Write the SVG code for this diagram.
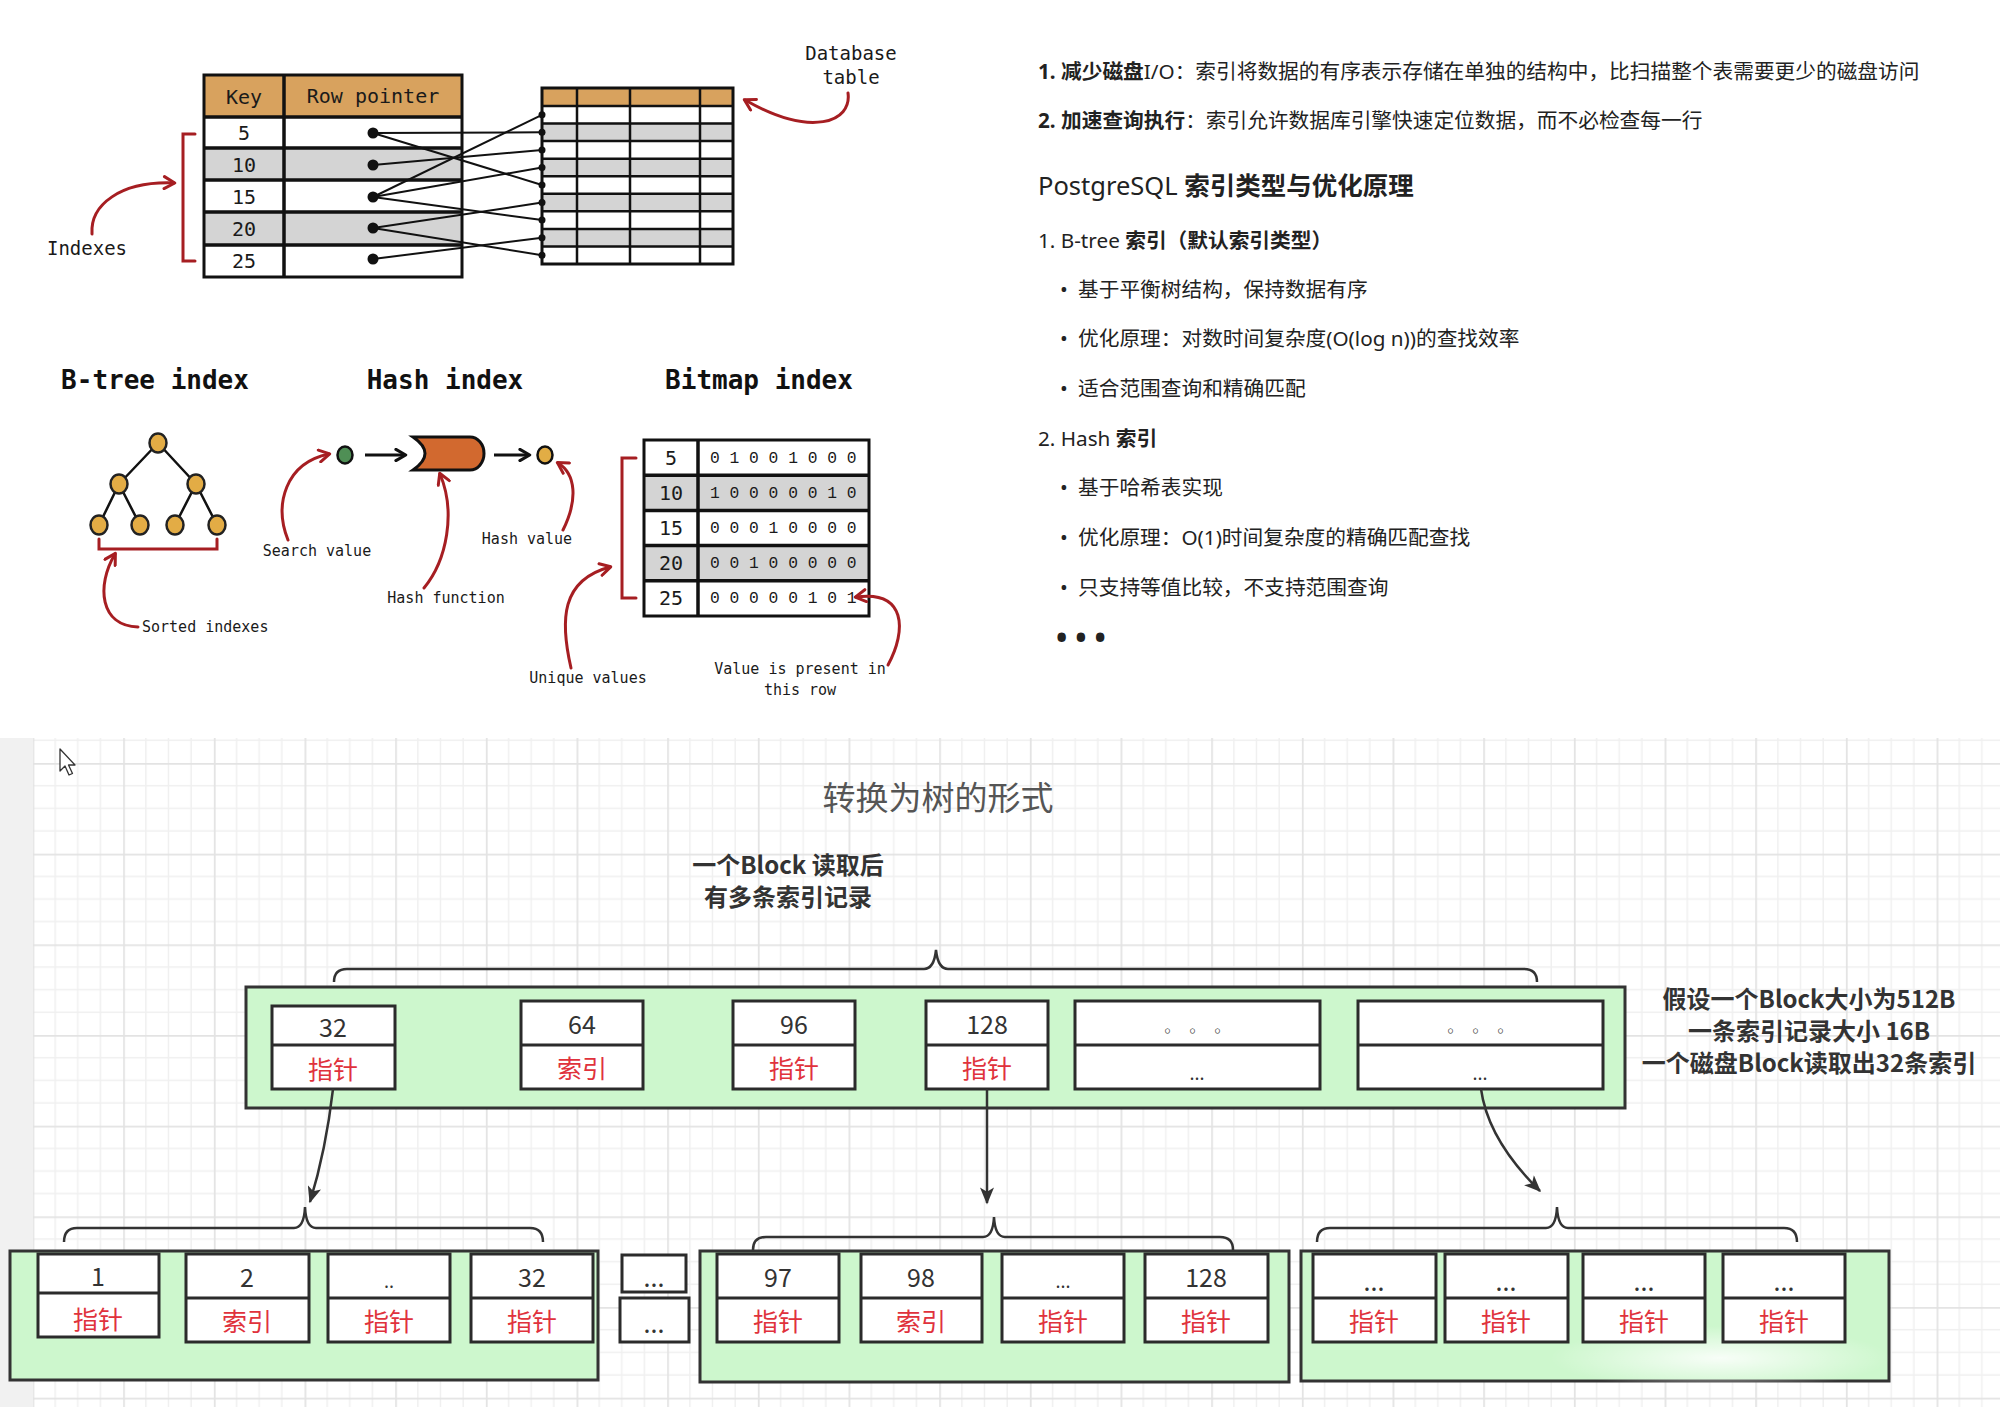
<svg xmlns="http://www.w3.org/2000/svg" width="2000" height="1407" viewBox="0 0 2000 1407">
<style>
.hw{font-family:"DejaVu Sans Mono","Liberation Mono",monospace;fill:#1a1a1a}
.bits{font-family:"Liberation Mono","DejaVu Sans Mono",monospace;fill:#1a1a1a}
.ttl{font-family:"DejaVu Sans Mono","Liberation Mono",monospace;font-weight:bold;font-size:26px;fill:#111}
.lbl{font-family:"DejaVu Sans Mono","Liberation Mono",monospace;font-size:15px;fill:#1a1a1a}
.ln{stroke:#111;stroke-width:3;fill:none}
.ptr{stroke:#111;stroke-width:2;fill:none}
.red{stroke:#a61e22;stroke-width:3;fill:none;stroke-linecap:round}
.body{font-family:"Noto Sans","Noto Sans CJK SC",sans-serif;font-size:20.7px;fill:#222}
.b{font-weight:bold}
.cn{font-family:"Noto Sans CJK SC","Noto Sans",sans-serif}
.blk{fill:#cdf7cd;stroke:#333;stroke-width:3}
.cell{fill:#fff;stroke:#2b2b2b;stroke-width:3}
.num{font-family:"Noto Sans CJK SC","Noto Sans",sans-serif;font-size:25px;fill:#333}
.rt{font-family:"Noto Sans CJK SC",sans-serif;font-size:25px;fill:#e0323c}
.note{font-family:"Noto Sans CJK SC",sans-serif;font-size:24px;font-weight:bold;fill:#333}
.arr{stroke:#333;stroke-width:2.5;fill:none}
.brace{stroke:#333;stroke-width:2.5;fill:none}
</style>
<defs>
<marker id="redHead" viewBox="0 0 10 10" refX="8" refY="5" markerWidth="15" markerHeight="15" markerUnits="userSpaceOnUse" orient="auto"><path d="M1.5,1 L8.5,5 L1.5,9" fill="none" stroke="#a61e22" stroke-width="2" stroke-linecap="round" stroke-linejoin="round"/></marker>
<marker id="blackHead" viewBox="0 0 10 10" refX="8" refY="5" markerWidth="14" markerHeight="14" markerUnits="userSpaceOnUse" orient="auto"><path d="M1.5,1 L8.5,5 L1.5,9" fill="none" stroke="#111" stroke-width="2.2" stroke-linecap="round" stroke-linejoin="round"/></marker>
<marker id="darkHead" viewBox="0 0 12 10" refX="11" refY="5" markerWidth="18" markerHeight="14" markerUnits="userSpaceOnUse" orient="auto"><path d="M0,0 L12,5 L0,10 L3,5 Z" fill="#333"/></marker>
<pattern id="grid" x="32.5" y="763" width="90.67" height="90.67" patternUnits="userSpaceOnUse">
<path d="M22.67,0 V90.67 M45.33,0 V90.67 M68,0 V90.67 M0,22.67 H90.67 M0,45.33 H90.67 M0,68 H90.67" stroke="#f0f0f0" stroke-width="1.5" fill="none"/>
<path d="M0.75,0 V90.67 M0,0.75 H90.67" stroke="#e3e3e3" stroke-width="2" fill="none"/>
</pattern>
<radialGradient id="glare" cx="0.5" cy="0.5" r="0.5"><stop offset="0" stop-color="#fff" stop-opacity="0.85"/><stop offset="1" stop-color="#fff" stop-opacity="0"/></radialGradient>
</defs>
<rect width="2000" height="1407" fill="#fff"/>

<!-- ============ TOP LEFT: index table ============ -->
<g id="index-table">
<rect x="204" y="75" width="258" height="42" fill="#d8a25e"/>
<rect x="204" y="148" width="258" height="32" fill="#d4d4d4"/>
<rect x="204" y="212" width="258" height="33" fill="#d4d4d4"/>
<rect x="204" y="75" width="258" height="202" class="ln"/>
<path d="M204,117 H462 M204,148 H462 M204,180 H462 M204,212 H462 M204,245 H462 M284,75 V277" stroke="#111" stroke-width="3.5"/>
<text x="244" y="97" class="hw" font-size="20" text-anchor="middle" dominant-baseline="central">Key</text>
<text x="373" y="96" class="hw" font-size="20" text-anchor="middle" dominant-baseline="central">Row pointer</text>
<g class="hw" font-size="20" text-anchor="middle" dominant-baseline="central">
<text x="244" y="133">5</text><text x="244" y="165">10</text><text x="244" y="197">15</text><text x="244" y="229">20</text><text x="244" y="261">25</text>
</g>
</g>
<g id="database-table">
<rect x="542" y="88" width="191" height="18" fill="#d8a25e"/>
<rect x="542" y="123.6" width="191" height="17.5" fill="#d4d4d4"/>
<rect x="542" y="158.7" width="191" height="17.5" fill="#d4d4d4"/>
<rect x="542" y="193.8" width="191" height="17.5" fill="#d4d4d4"/>
<rect x="542" y="228.9" width="191" height="17.5" fill="#d4d4d4"/>
<rect x="542" y="88" width="191" height="176" class="ln" stroke-width="2.5"/>
<path d="M542,106 H733 M542,123.6 H733 M542,141.1 H733 M542,158.7 H733 M542,176.2 H733 M542,193.8 H733 M542,211.3 H733 M542,228.9 H733 M542,246.4 H733 M577,88 V264 M630,88 V264 M700,88 V264" stroke="#111" stroke-width="2.5"/>
</g>
<g id="label-indexes">
<path d="M195,134 H183 V261 H195" class="red"/>
<text x="87" y="248" class="hw" font-size="19" text-anchor="middle" dominant-baseline="central">Indexes</text>
</g>
<g id="label-database">
<text x="851" y="53" class="hw" font-size="19" text-anchor="middle" dominant-baseline="central">Database</text>
<text x="851" y="77" class="hw" font-size="19" text-anchor="middle" dominant-baseline="central">table</text>
</g>

<!-- ============ MIDDLE LEFT: index types ============ -->
<g id="btree-index">
<text x="155" y="380" class="ttl" text-anchor="middle" dominant-baseline="central">B-tree index</text>
<path d="M158,443 L119,484 M158,443 L196,484 M119,484 L99,525 M119,484 L140,525 M196,484 L175,525 M196,484 L217,525" stroke="#111" stroke-width="2.5"/>
<g fill="#e3ac45" stroke="#222" stroke-width="2.5">
<ellipse cx="158" cy="443" rx="8.5" ry="9.5"/><ellipse cx="119" cy="484" rx="8.5" ry="9.5"/><ellipse cx="196" cy="484" rx="8.5" ry="9.5"/>
<ellipse cx="99" cy="525" rx="8.5" ry="9.5"/><ellipse cx="140" cy="525" rx="8.5" ry="9.5"/><ellipse cx="175" cy="525" rx="8.5" ry="9.5"/><ellipse cx="217" cy="525" rx="8.5" ry="9.5"/>
</g>
<path d="M99,539 V549 H217 V539" class="red"/>
<text x="142" y="627" class="lbl" dominant-baseline="central">Sorted indexes</text>
</g>
<g id="hash-index">
<text x="445" y="380" class="ttl" text-anchor="middle" dominant-baseline="central">Hash index</text>
<ellipse cx="345" cy="455" rx="7.5" ry="8.5" fill="#4f8f55" stroke="#111" stroke-width="2.5"/>
<path d="M413,437 L470,437 A14,16.5 0 0 1 470,470 L413,470 Q437,453.5 413,437 Z" fill="#d2692f" stroke="#111" stroke-width="3"/>
<ellipse cx="545" cy="455" rx="7.5" ry="8.5" fill="#e2ad45" stroke="#111" stroke-width="2.5"/>
<text x="317" y="551" class="lbl" text-anchor="middle" dominant-baseline="central">Search value</text>
<text x="446" y="598" class="lbl" text-anchor="middle" dominant-baseline="central">Hash function</text>
<text x="527" y="539" class="lbl" text-anchor="middle" dominant-baseline="central">Hash value</text>
</g>
<g id="bitmap-index">
<text x="759" y="380" class="ttl" text-anchor="middle" dominant-baseline="central">Bitmap index</text>
<rect x="644" y="475.2" width="225" height="35.2" fill="#d4d4d4"/>
<rect x="644" y="545.6" width="225" height="35.2" fill="#d4d4d4"/>
<rect x="644" y="440" width="225" height="176" class="ln" stroke-width="3.5"/>
<path d="M644,475.2 H869 M644,510.4 H869 M644,545.6 H869 M644,580.8 H869 M698,440 V616" stroke="#111" stroke-width="3.5"/>
<g class="hw" font-size="20" text-anchor="middle" dominant-baseline="central">
<text x="671" y="458">5</text><text x="671" y="493">10</text><text x="671" y="528">15</text><text x="671" y="563">20</text><text x="671" y="598">25</text>
</g>
<g class="bits" font-size="16.3" dominant-baseline="central" xml:space="preserve">
<text x="710" y="458">0 1 0 0 1 0 0 0</text>
<text x="710" y="493">1 0 0 0 0 0 1 0</text>
<text x="710" y="528">0 0 0 1 0 0 0 0</text>
<text x="710" y="563">0 0 1 0 0 0 0 0</text>
<text x="710" y="598">0 0 0 0 0 1 0 1</text>
</g>
<path d="M636,458 H622 V598 H636" class="red"/>
<text x="588" y="678" class="lbl" text-anchor="middle" dominant-baseline="central">Unique values</text>
<text x="800" y="669" class="lbl" text-anchor="middle" dominant-baseline="central">Value is present in</text>
<text x="800" y="690" class="lbl" text-anchor="middle" dominant-baseline="central">this row</text>
</g>

<!-- ============ TOP RIGHT: text ============ -->
<g id="text-panel" class="body" dominant-baseline="central">
<text x="1038" y="71"><tspan class="b">1. 减少磁盘</tspan>I/O：索引将数据的有序表示存储在单独的结构中，比扫描整个表需要更少的磁盘访问</text>
<text x="1038" y="120"><tspan class="b">2. 加速查询执行</tspan>：索引允许数据库引擎快速定位数据，而不必检查每一行</text>
<text x="1038" y="185" font-size="25.5">PostgreSQL <tspan class="b">索引类型与优化原理</tspan></text>
<text x="1038" y="240">1. B-tree <tspan class="b">索引（默认索引类型）</tspan></text>
<text x="1060" y="289">•</text><text x="1078" y="289">基于平衡树结构，保持数据有序</text>
<text x="1060" y="338">•</text><text x="1078" y="338">优化原理：对数时间复杂度(O(log n))的查找效率</text>
<text x="1060" y="388">•</text><text x="1078" y="388">适合范围查询和精确匹配</text>
<text x="1038" y="438">2. Hash <tspan class="b">索引</tspan></text>
<text x="1060" y="487">•</text><text x="1078" y="487">基于哈希表实现</text>
<text x="1060" y="537">•</text><text x="1078" y="537">优化原理：O(1)时间复杂度的精确匹配查找</text>
<text x="1060" y="587">•</text><text x="1078" y="587">只支持等值比较，不支持范围查询</text>
<text x="1056" y="636" font-size="30" font-weight="bold" letter-spacing="8">•••</text>
</g>

<!-- ============ BOTTOM: screenshot with grid ============ -->
<g id="canvas-bg">
<rect x="0" y="738" width="33" height="669" fill="#f1f1f1"/>
<rect x="33" y="738" width="1967" height="669" fill="url(#grid)"/>
<path d="M60,749 L60,771 L65,766 L69,775 L72.5,773.5 L68.5,765 L75,765 Z" fill="#fff" stroke="#333" stroke-width="1.3" stroke-linejoin="round"/>
</g>
<g id="title">
<text x="938" y="796" class="cn" font-size="33" fill="#555" text-anchor="middle" dominant-baseline="central">转换为树的形式</text>
<text x="788" y="863" class="note" text-anchor="middle" dominant-baseline="central">一个Block 读取后</text>
<text x="788" y="895" class="note" text-anchor="middle" dominant-baseline="central">有多条索引记录</text>
</g>
<g id="note-block-size" class="note" text-anchor="middle" dominant-baseline="central">
<text x="1809" y="997">假设一个Block大小为512B</text>
<text x="1809" y="1029">一条索引记录大小 16B</text>
<text x="1809" y="1061">一个磁盘Block读取出32条索引</text>
</g>

<g id="root-block">
<rect x="246" y="987" width="1379" height="121" class="blk"/>
<rect x="272" y="1006" width="123" height="83" class="cell"/><line x1="272" y1="1045" x2="395" y2="1045" stroke="#2b2b2b" stroke-width="3"/>
<rect x="521" y="1001" width="122" height="88" class="cell"/><line x1="521" y1="1045" x2="643" y2="1045" stroke="#2b2b2b" stroke-width="3"/>
<rect x="733" y="1001" width="122" height="88" class="cell"/><line x1="733" y1="1045" x2="855" y2="1045" stroke="#2b2b2b" stroke-width="3"/>
<rect x="926" y="1001" width="122" height="88" class="cell"/><line x1="926" y1="1045" x2="1048" y2="1045" stroke="#2b2b2b" stroke-width="3"/>
<rect x="1075" y="1001" width="245" height="88" class="cell"/><line x1="1075" y1="1045" x2="1320" y2="1045" stroke="#2b2b2b" stroke-width="3"/>
<rect x="1358" y="1001" width="245" height="88" class="cell"/><line x1="1358" y1="1045" x2="1603" y2="1045" stroke="#2b2b2b" stroke-width="3"/>
<g class="num" text-anchor="middle" dominant-baseline="central">
<text x="333" y="1026">32</text><text x="582" y="1023">64</text><text x="794" y="1023">96</text><text x="987" y="1023">128</text>
<text x="1197" y="1030" font-size="16" letter-spacing="9">◦◦◦</text><text x="1480" y="1030" font-size="16" letter-spacing="9">◦◦◦</text>
<text x="1197" y="1072" font-size="18">...</text><text x="1480" y="1072" font-size="18">...</text>
</g>
<g class="rt" text-anchor="middle" dominant-baseline="central">
<text x="333" y="1068">指针</text><text x="582" y="1067">索引</text><text x="794" y="1067">指针</text><text x="987" y="1067">指针</text>
</g>
</g>

<g id="leaf-block-1">
<rect x="10" y="1251" width="588" height="129" class="blk"/>
<rect x="38" y="1254" width="121" height="83" class="cell"/><line x1="38" y1="1293" x2="159" y2="1293" stroke="#2b2b2b" stroke-width="3"/>
<rect x="186" y="1254" width="123" height="88" class="cell"/><line x1="186" y1="1298" x2="309" y2="1298" stroke="#2b2b2b" stroke-width="3"/>
<rect x="328" y="1254" width="122" height="88" class="cell"/><line x1="328" y1="1298" x2="450" y2="1298" stroke="#2b2b2b" stroke-width="3"/>
<rect x="471" y="1254" width="122" height="88" class="cell"/><line x1="471" y1="1298" x2="593" y2="1298" stroke="#2b2b2b" stroke-width="3"/>
<g class="num" text-anchor="middle" dominant-baseline="central">
<text x="98" y="1275">1</text><text x="247" y="1276">2</text><text x="389" y="1280" font-size="18">..</text><text x="532" y="1276">32</text>
</g>
<g class="rt" text-anchor="middle" dominant-baseline="central">
<text x="98" y="1318">指针</text><text x="247" y="1320">索引</text><text x="389" y="1320">指针</text><text x="532" y="1320">指针</text>
</g>
</g>

<g id="ellipsis-block">
<rect x="622" y="1255" width="64" height="37" class="cell"/>
<rect x="620" y="1298" width="69" height="44" class="cell"/>
<g class="num" text-anchor="middle" dominant-baseline="central" font-size="18">
<text x="654" y="1276">...</text><text x="654" y="1322">...</text>
</g>
</g>

<g id="leaf-block-2">
<rect x="700" y="1251" width="589" height="131" class="blk"/>
<rect x="717" y="1254" width="122" height="88" class="cell"/><line x1="717" y1="1298" x2="839" y2="1298" stroke="#2b2b2b" stroke-width="3"/>
<rect x="861" y="1254" width="121" height="88" class="cell"/><line x1="861" y1="1298" x2="982" y2="1298" stroke="#2b2b2b" stroke-width="3"/>
<rect x="1002" y="1254" width="122" height="88" class="cell"/><line x1="1002" y1="1298" x2="1124" y2="1298" stroke="#2b2b2b" stroke-width="3"/>
<rect x="1145" y="1254" width="123" height="88" class="cell"/><line x1="1145" y1="1298" x2="1268" y2="1298" stroke="#2b2b2b" stroke-width="3"/>
<g class="num" text-anchor="middle" dominant-baseline="central">
<text x="778" y="1276">97</text><text x="921" y="1276">98</text><text x="1063" y="1280" font-size="18">...</text><text x="1206" y="1276">128</text>
</g>
<g class="rt" text-anchor="middle" dominant-baseline="central">
<text x="778" y="1320">指针</text><text x="921" y="1320">索引</text><text x="1063" y="1320">指针</text><text x="1206" y="1320">指针</text>
</g>
</g>

<g id="leaf-block-3">
<rect x="1301" y="1251" width="588" height="130" class="blk"/>
<ellipse cx="1720" cy="1358" rx="170" ry="32" fill="url(#glare)"/>
<rect x="1313" y="1254" width="123" height="88" class="cell"/><line x1="1313" y1="1298" x2="1436" y2="1298" stroke="#2b2b2b" stroke-width="3"/>
<rect x="1445" y="1254" width="123" height="88" class="cell"/><line x1="1445" y1="1298" x2="1568" y2="1298" stroke="#2b2b2b" stroke-width="3"/>
<rect x="1583" y="1254" width="122" height="88" class="cell"/><line x1="1583" y1="1298" x2="1705" y2="1298" stroke="#2b2b2b" stroke-width="3"/>
<rect x="1723" y="1254" width="122" height="88" class="cell"/><line x1="1723" y1="1298" x2="1845" y2="1298" stroke="#2b2b2b" stroke-width="3"/>
<g class="num" text-anchor="middle" dominant-baseline="central" font-size="18">
<text x="1374" y="1280">...</text><text x="1506" y="1280">...</text><text x="1644" y="1280">...</text><text x="1784" y="1280">...</text>
</g>
<g class="rt" text-anchor="middle" dominant-baseline="central">
<text x="1374" y="1320">指针</text><text x="1506" y="1320">指针</text><text x="1644" y="1320">指针</text><text x="1784" y="1320">指针</text>
</g>
</g>

<!-- ============ CONNECTORS ============ -->
<g id="connectors">
<g class="ptr">
<path d="M373,133 L542,132.3"/><path d="M373,133 L542,185"/>
<path d="M373,165 L542,149.9"/>
<path d="M373,197 L542,114.8"/><path d="M373,197 L542,167.5"/><path d="M373,197 L542,220.1"/>
<path d="M373,228 L542,202.6"/><path d="M373,228 L542,255.2"/>
<path d="M373,259 L542,237.7"/>
</g>
<g fill="#111">
<circle cx="373" cy="133" r="5.5"/><circle cx="373" cy="165" r="5.5"/><circle cx="373" cy="197" r="5.5"/><circle cx="373" cy="228" r="5.5"/><circle cx="373" cy="259" r="5.5"/>
<circle cx="542" cy="114.8" r="3.5"/><circle cx="542" cy="132.3" r="3.5"/><circle cx="542" cy="149.9" r="3.5"/><circle cx="542" cy="167.5" r="3.5"/><circle cx="542" cy="185" r="3.5"/><circle cx="542" cy="202.6" r="3.5"/><circle cx="542" cy="220.1" r="3.5"/><circle cx="542" cy="237.7" r="3.5"/><circle cx="542" cy="255.2" r="3.5"/>
</g>
<path d="M92,234 C90,205 120,181 174,183" class="red" marker-end="url(#redHead)"/>
<path d="M848,93 C852,122 812,138 745,100" class="red" marker-end="url(#redHead)"/>
<path d="M138,627 C100,626 96,586 115,554" class="red" marker-end="url(#redHead)"/>
<path d="M288,540 C274,505 285,463 329,454" class="red" marker-end="url(#redHead)"/>
<path d="M424,588 C447,560 456,512 440,474" class="red" marker-end="url(#redHead)"/>
<path d="M563,530 C578,500 576,474 558,463" class="red" marker-end="url(#redHead)"/>
<path d="M571,668 C560,620 561,580 610,567" class="red" marker-end="url(#redHead)"/>
<path d="M888,665 C907,630 906,590 856,597" class="red" marker-end="url(#redHead)"/>
<path d="M365,455 H405" stroke="#111" stroke-width="3" marker-end="url(#blackHead)"/>
<path d="M494,455 H529" stroke="#111" stroke-width="3" marker-end="url(#blackHead)"/>
<path d="M334,982 Q334,969 347,969 L924,969 Q934,969 936,950 Q938,969 948,969 L1524,969 Q1537,969 1537,982" class="brace"/>
<path d="M64,1242 Q64,1228 77,1228 L294,1228 Q304,1228 305,1207 Q306,1228 316,1228 L530,1228 Q543,1228 543,1242" class="brace"/>
<path d="M753,1250 Q753,1237 766,1237 L983,1237 Q993,1237 994,1217 Q995,1237 1005,1237 L1220,1237 Q1233,1237 1233,1250" class="brace"/>
<path d="M1317,1242 Q1317,1228 1330,1228 L1546,1228 Q1556,1228 1557,1207 Q1558,1228 1568,1228 L1784,1228 Q1797,1228 1797,1242" class="brace"/>
<path d="M333,1089 Q326,1150 310,1202" class="arr" marker-end="url(#darkHead)"/>
<path d="M987,1089 V1203" class="arr" marker-end="url(#darkHead)"/>
<path d="M1481,1089 Q1488,1140 1540,1191" class="arr" marker-end="url(#darkHead)"/>
</g>
</svg>
